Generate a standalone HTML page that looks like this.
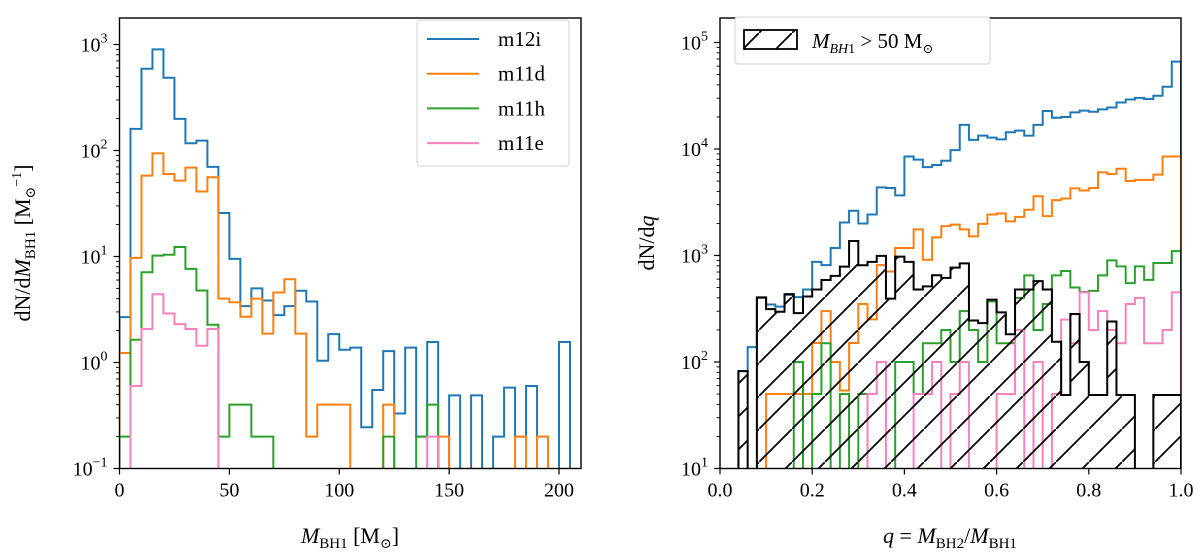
<!DOCTYPE html>
<html><head><meta charset="utf-8"><style>
body{margin:0;background:#fff;}
svg{display:block;font-family:"Liberation Serif","DejaVu Serif",serif;}
</style></head><body>
<svg id="chart" width="1200" height="553" viewBox="0 0 1200 553" xmlns="http://www.w3.org/2000/svg">
<defs>
<clipPath id="clipL"><rect x="119.5" y="18" width="461.5" height="450.5"/></clipPath>
<clipPath id="clipR"><rect x="720" y="18" width="461" height="450.5"/></clipPath>
<pattern id="hatch" patternUnits="userSpaceOnUse" width="33" height="33">
<line x1="-2" y1="35" x2="35" y2="-2" stroke="#000" stroke-width="1.8"/>
</pattern>
</defs>
<g id="left"></g>
<g id="right"></g>
</svg>
<script>
// ---- Left panel data (bins of 5 Msun, 0..205) ----
const leftBinWidth = 5;
const leftSeriesNames = ["m12i","m11d","m11h","m11e"];
const leftM12i = [2.68,160,590,900,485,199,117,124,70,25.7,9.5,3.4,5.0,3.85,2.8,3.4,4.75,3.76,1.04,1.85,1.32,1.38,0.245,0.55,1.28,0.33,1.38,0.2,1.56,0,0.49,0,0.49,0,0.2,0.58,0.2,0.6,0,0,1.56];
const leftM11d = [1.23,9.7,58,94,60,52,69,41,56,4.0,3.7,2.7,4.0,1.87,4.57,6.1,1.87,0.2,0.4,0.4,0.4,0,0,0,0.4,0,0,0,0,0.2,0,0,0,0,0,0,0.2,0,0.2,0,0];
const leftM11h = [0.2,1.64,7.1,10.2,10.4,12.3,7.65,4.78,2.27,0.2,0.4,0.4,0.2,0.2,0,0,0,0,0,0,0,0,0,0,0.2,0,0,0.2,0.4,0,0,0,0,0,0,0,0,0,0,0,0];
const leftM11e = [0,0.6,2.07,4.4,2.9,2.3,2.07,1.44,2.07,0,0,0,0,0,0,0,0,0,0,0,0,0,0,0,0,0,0,0,0.2,0,0,0,0,0,0,0,0,0,0,0,0];
const leftXTicks = [0,50,100,150,200];
const leftYTicks = [-1,0,1,2,3];

// ---- Right panel data (bins of 0.02 in q) ----
const rightBinWidth = 0.02;
const rightM12i = [0,0,82,138,400,347,331,427,407,479,871,813,1175,2042,2630,1995,2427,4365,4305,3673,8511,7943,6761,7079,7762,9772,16827,12190,13366,12794,12303,14355,14894,13366,16827,22751,19679,19953,22080,22909,22387,23550,24547,27353,29174,30200,29512,31623,38371,66069];
const rightM11d = [0,0,0,0,0,50,50,50,50,50,151,300,100,54,151,350,251,813,708,1175,1175,1758,912,1479,1888,1950,1758,1514,1982,2427,2477,2089,2307,2692,3597,2344,3311,3428,4266,4074,4305,6026,5821,6531,5012,5129,5129,5754,8511,8511];
const rightM11h = [0,0,0,0,0,0,0,0,100,0,50,150,0,50,0,50,0,0,0,100,100,50,150,150,200,100,300,200,100,370,150,150,400,650,200,350,650,715,500,455,465,650,900,790,550,790,590,850,850,1100];
const rightM11e = [0,0,0,0,0,0,0,0,0,0,0,0,0,0,0,0,50,100,0,0,0,50,50,100,0,50,100,0,0,0,50,50,200,0,100,0,50,250,150,450,200,300,200,150,350,400,150,150,200,450];
const rightHeavy = [0,0,82,0,404,314,296,434,288,412,479,589,643,787,1368,809,871,991,394,977,871,479,513,653,617,769,843,245,232,385,292,182,479,479,575,479,155,49,282,100,49,49,240,49,49,0,0,49,49,49];
const rightXTicks = [0,0.2,0.4,0.6,0.8,1.0];
const rightYTicks = [1,2,3,4,5];

const colors = ["#1f77b4","#ff7f0e","#2ca02c","#f781bf"];
const NS = "http://www.w3.org/2000/svg";
function mk(tag, attrs, parent){const e=document.createElementNS(NS,tag);for(const k in attrs)e.setAttribute(k,attrs[k]);if(parent)parent.appendChild(e);return e;}

const L = {x0:119.5,x1:581,y0:468.5,xmin:0,xmax:210,ymin:-1,dec:106};
const R = {x0:720,x1:1181,y0:468.5,xmin:0,xmax:1,ymin:1,dec:106.5};
function xs(P,v){return P.x0+(v-P.xmin)/(P.xmax-P.xmin)*(P.x1-P.x0);}
function ys(P,v){if(v<=0)return P.y0+10;return P.y0-(Math.log10(v)-P.ymin)*P.dec;}

function stepPath(P,vals,bw){
  let d="M"+xs(P,0)+","+(P.y0+10);
  for(let i=0;i<vals.length;i++){
    const y=ys(P,vals[i]);
    d+=" L"+xs(P,i*bw)+","+y+" L"+xs(P,(i+1)*bw)+","+y;
  }
  d+=" L"+xs(P,vals.length*bw)+","+(P.y0+10);
  return d;
}

function drawAxes(g,P,xt,xfmt,yt){
  mk("rect",{x:P.x0,y:18,width:P.x1-P.x0,height:P.y0-18,fill:"none",stroke:"#000","stroke-width":1.4},g);
  xt.forEach(v=>{
    const x=xs(P,v);
    const t=mk("line",{x1:x,y1:P.y0,x2:x,y2:P.y0+6,stroke:"#000","stroke-width":1.2},g);
    
    
    const l=mk("text",{x:x,y:P.y0+28,"text-anchor":"middle","font-size":20},g);
    l.textContent=xfmt(v);
    
    
  });
  yt.forEach(e=>{
    const y=P.y0-(e-P.ymin)*P.dec;
    mk("line",{x1:P.x0-6,y1:y,x2:P.x0,y2:y,stroke:"#000","stroke-width":1.2},g);
    const l=mk("text",{x:P.x0-12,y:y+7,"text-anchor":"end","font-size":20},g);
    
    
    const t1=mk("tspan",{},l);t1.textContent="10";
    const t2=mk("tspan",{dy:-9,"font-size":14},l);t2.textContent=String(e).replace("-","\u2212");
    for(let m=2;m<=9;m++){
      const yy=y-Math.log10(m)*P.dec;
      if(yy<18)continue;
      mk("line",{x1:P.x0-3.5,y1:yy,x2:P.x0,y2:yy,stroke:"#000","stroke-width":0.9},g);
    }
  });
}

const gL=document.getElementById("left");
const leftSeries=[leftM12i,leftM11d,leftM11h,leftM11e];
const gLd=mk("g",{"clip-path":"url(#clipL)"},gL);
leftSeries.forEach((s,i)=>{
  const p=mk("path",{d:stepPath(L,s,leftBinWidth),fill:"none",stroke:colors[i],"stroke-width":2},gLd);
  
  
});
drawAxes(gL,L,leftXTicks,v=>String(v),leftYTicks);
</script>
<script>
(function(){
const gL=document.getElementById("left");
const lg=mk("g",{},gL);


mk("rect",{x:417,y:20,width:152,height:146,rx:3,fill:"#fff",stroke:"#d9d9d9","stroke-width":1.2},lg);
leftSeriesNames.forEach((n,i)=>{
  const y=39+i*34.7;
  const e=mk("g",{},lg);
  
  
  mk("line",{x1:427,y1:y,x2:479,y2:y,stroke:colors[i],"stroke-width":2},e);
  const t=mk("text",{x:498,y:y+7,"font-size":21},e);t.textContent=n;
});
const xl=mk("text",{x:350,y:543,"text-anchor":"middle","font-size":22},gL);


xl.innerHTML='<tspan font-style="italic">M</tspan><tspan font-size="15" dy="5">BH1</tspan><tspan dy="-5"> [M</tspan><tspan font-size="14" dy="5">⊙</tspan><tspan dy="-5">]</tspan>';
const yl=mk("text",{x:0,y:0,"text-anchor":"middle","font-size":22,transform:"translate(30,243) rotate(-90)"},gL);


yl.innerHTML='dN/d<tspan font-style="italic">M</tspan><tspan font-size="15" dy="5">BH1</tspan><tspan dy="-5"> [M</tspan><tspan font-size="14" dy="5">⊙</tspan><tspan font-size="14" dy="-14">−1</tspan><tspan dy="9">]</tspan>';

const gR=document.getElementById("right");
const gRd=mk("g",{"clip-path":"url(#clipR)"},gR);
[rightM12i,rightM11d,rightM11h,rightM11e].forEach((s,i)=>{
  const p=mk("path",{d:stepPath(R,s,rightBinWidth),fill:"none",stroke:colors[i],"stroke-width":2},gRd);
  
  
});
const hp=mk("path",{d:stepPath(R,rightHeavy,rightBinWidth)+" Z",fill:"url(#hatch)",stroke:"#000","stroke-width":2},gRd);


drawAxes(gR,R,rightXTicks,v=>v.toFixed(1),rightYTicks);

const lg2=mk("g",{},gR);


mk("rect",{x:735,y:17,width:255,height:47,rx:3,fill:"#fff",stroke:"#d9d9d9","stroke-width":1.2},lg2);
mk("rect",{x:744,y:30,width:53,height:19,fill:"url(#hatch)",stroke:"#000","stroke-width":1.8},lg2);
const lt=mk("text",{x:812,y:48,"font-size":21},lg2);
lt.innerHTML='<tspan font-style="italic">M</tspan><tspan font-style="italic" font-size="14" dy="5">BH</tspan><tspan font-size="14">1</tspan><tspan dy="-5"> &gt; 50 M</tspan><tspan font-size="13" dy="5">⊙</tspan>';

const xr=mk("text",{x:950,y:543,"text-anchor":"middle","font-size":22},gR);


xr.innerHTML='<tspan font-style="italic">q</tspan> = <tspan font-style="italic">M</tspan><tspan font-size="15" dy="5">BH2</tspan><tspan dy="-5">/</tspan><tspan font-style="italic">M</tspan><tspan font-size="15" dy="5">BH1</tspan>';
const yr=mk("text",{x:0,y:0,"text-anchor":"middle","font-size":22,transform:"translate(654,243) rotate(-90)"},gR);


yr.innerHTML='dN/d<tspan font-style="italic">q</tspan>';
})();
</script>
</body></html>
